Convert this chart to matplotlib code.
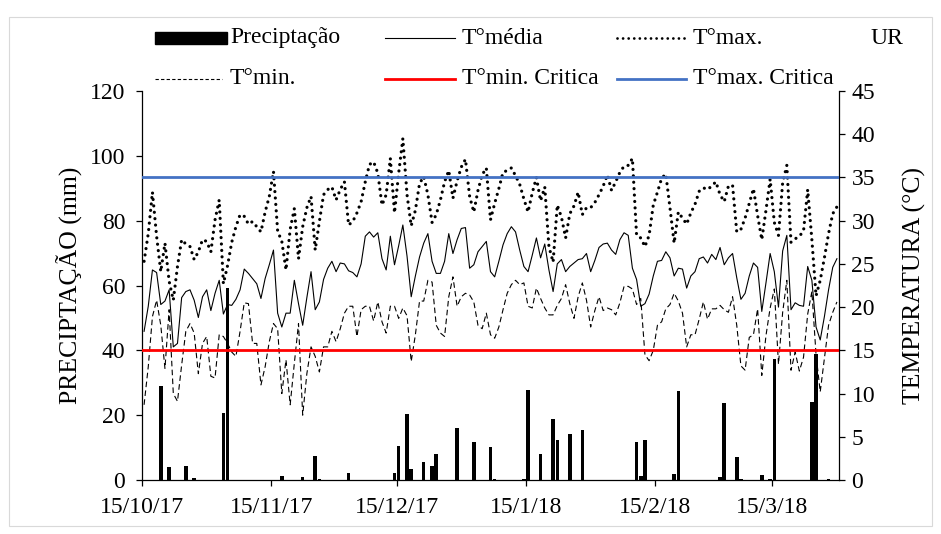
import matplotlib.pyplot as plt
from matplotlib.lines import Line2D
from matplotlib.patches import Rectangle
import pandas as pd

plt.rcParams['font.family'] = ['Liberation Serif', 'DejaVu Serif']

# daily series, 15/10/2017 .. 30/03/2018
dates = pd.date_range('2017-10-15', periods=167, freq='D')

precip = [
    0, 0, 0, 0, 28.9, 0, 4.0, 0, 0, 0, 4.2, 0, 0.6, 0, 0, 0, 0, 0, 0, 20.6,
    59.2, 0, 0, 0, 0, 0, 0, 0, 0, 0, 0, 0, 0, 1.3, 0, 0, 0, 0, 1.0, 0,
    0, 7.5, 0.4, 0, 0, 0, 0, 0, 0, 2.1, 0, 0, 0, 0, 0, 0, 0, 0, 0, 0,
    2.1, 10.6, 0, 20.5, 3.3, 0, 0, 5.7, 0, 4.4, 8.1, 0, 0, 0, 0, 16.0, 0, 0, 0, 11.6,
    0, 0, 0, 10.1, 0.4, 0, 0, 0, 0, 0, 0, 0.4, 27.7, 0, 0, 8.1, 0, 0, 18.7, 12.2,
    0, 0, 14.3, 0, 0, 15.3, 0, 0, 0, 0, 0, 0, 0, 0, 0, 0, 0, 0, 11.8, 1.1,
    12.2, 0, 0, 0, 0, 0, 0, 2.0, 27.4, 0, 0, 0, 0, 0, 0, 0, 0, 0, 0.8, 23.6,
    0, 0, 7.0, 0.4, 0, 0, 0, 0, 1.5, 0, 0.4, 37.2, 0, 0, 0, 0, 0, 0, 0, 0,
    24.0, 39.0, 0, 0, 0.4, 0, 0,
]

t_med = [
    17.2, 20.1, 24.3, 24.0, 20.3, 20.7, 22.0, 15.4, 15.8, 21.1,
    21.8, 22.0, 20.8, 18.8, 21.2, 22.0, 19.6, 21.6, 23.1, 19.2,
    20.3, 20.2, 20.9, 22.0, 24.4, 23.9, 23.3, 22.7, 21.0, 23.3,
    24.9, 26.6, 19.3, 17.7, 19.3, 19.3, 23.1, 20.4, 17.9, 21.1,
    24.1, 19.7, 20.6, 23.2, 24.5, 25.3, 24.1, 25.1, 25.0, 24.2,
    24.0, 23.5, 25.0, 28.2, 28.7, 28.1, 28.6, 25.6, 24.3, 28.2,
    24.9, 27.1, 29.5, 25.9, 21.2, 23.6, 25.8, 27.4, 28.5, 25.3,
    23.9, 23.9, 25.3, 28.5, 26.2, 27.8, 29.1, 29.2, 24.5, 24.9,
    26.4, 27.0, 27.6, 24.1, 23.5, 25.3, 27.2, 28.5, 29.3, 28.7,
    26.6, 24.7, 24.1, 26.0, 28.0, 25.7, 27.3, 24.3, 21.8, 25.0,
    25.5, 24.1, 24.7, 25.1, 25.5, 25.6, 26.2, 24.1, 25.4, 26.9,
    27.3, 27.4, 26.6, 26.1, 27.8, 28.6, 28.3, 24.5, 23.2, 20.1,
    20.4, 21.5, 23.6, 25.3, 25.4, 26.4, 25.7, 23.6, 24.5, 24.4,
    22.2, 23.6, 24.1, 25.6, 25.8, 25.1, 26.1, 25.5, 26.9, 24.9,
    25.7, 26.2, 23.4, 20.9, 21.6, 23.6, 25.1, 24.6, 19.5, 22.8,
    26.2, 24.1, 20.0, 26.5, 28.3, 19.7, 20.5, 20.2, 20.1, 24.7,
    23.1, 17.7, 16.2, 18.9, 22.0, 24.6, 25.6,
]

t_max = [
    25.3, 28.5, 33.3, 28.2, 24.1, 27.4, 23.0, 20.8, 24.7, 27.8,
    27.3, 27.0, 25.5, 26.4, 27.8, 27.6, 26.4, 30.1, 32.4, 22.7,
    24.8, 27.5, 29.3, 30.7, 30.5, 29.6, 29.9, 29.3, 28.7, 31.0,
    32.8, 35.7, 28.8, 27.6, 24.3, 29.0, 31.4, 25.6, 29.3, 31.5,
    32.8, 26.6, 29.9, 33.0, 33.6, 33.9, 32.4, 33.6, 34.5, 29.5,
    29.9, 30.9, 32.2, 34.5, 36.5, 36.8, 35.5, 31.8, 33.0, 37.2,
    30.9, 35.5, 39.5, 33.0, 29.4, 31.2, 34.3, 35.1, 33.0, 29.8,
    30.7, 32.4, 34.5, 35.8, 32.6, 34.6, 36.2, 37.1, 32.8, 31.0,
    33.5, 35.3, 36.1, 30.1, 32.0, 33.7, 35.6, 35.8, 36.1, 35.2,
    34.2, 32.5, 31.0, 33.2, 35.0, 32.3, 33.9, 27.0, 25.2, 31.8,
    30.4, 28.0, 30.8, 31.7, 33.3, 30.7, 31.5, 31.5, 32.1, 33.0,
    34.0, 35.3, 33.5, 34.5, 35.6, 36.3, 36.4, 37.2, 28.3, 28.0,
    27.0, 28.3, 31.8, 33.3, 34.9, 35.4, 31.5, 27.4, 31.0, 30.3,
    29.6, 30.9, 31.9, 33.4, 33.8, 33.6, 34.0, 34.5, 33.0, 32.2,
    34.0, 34.1, 28.7, 29.0, 30.3, 32.0, 33.7, 30.6, 27.8, 31.2,
    34.8, 29.8, 28.3, 34.4, 36.4, 27.5, 27.9, 28.2, 28.8, 33.6,
    27.8, 21.3, 23.1, 25.7, 28.5, 30.8, 31.6,
]

t_min = [
    8.7, 13.1, 18.9, 20.8, 17.9, 12.9, 19.7, 10.0, 9.1, 13.3,
    17.2, 18.1, 17.0, 12.3, 15.8, 16.6, 12.0, 11.8, 16.8, 16.6,
    15.8, 14.8, 14.3, 17.2, 20.5, 20.4, 15.8, 15.8, 11.0, 13.1,
    16.0, 18.1, 17.5, 10.0, 13.9, 8.7, 13.5, 18.1, 7.5, 12.3,
    15.4, 14.3, 12.5, 15.4, 15.4, 17.2, 16.0, 17.5, 19.3, 20.1,
    20.1, 16.6, 19.7, 20.1, 20.1, 18.4, 20.6, 18.3, 17.0, 20.1,
    20.1, 18.7, 19.9, 19.0, 13.7, 16.8, 20.7, 20.7, 23.1, 22.9,
    17.9, 17.0, 16.6, 21.2, 23.5, 20.1, 21.2, 21.6, 21.4, 20.6,
    17.9, 17.5, 19.3, 16.8, 16.4, 17.7, 19.7, 21.6, 22.6, 23.1,
    22.6, 22.8, 20.1, 19.9, 22.2, 21.0, 19.9, 19.1, 19.1, 20.2,
    21.0, 22.6, 20.4, 18.7, 21.2, 22.8, 20.8, 17.7, 19.6, 21.2,
    19.6, 19.9, 19.7, 19.1, 20.5, 22.4, 22.4, 22.1, 20.3, 21.0,
    14.5, 13.8, 15.0, 17.9, 18.3, 19.8, 20.3, 21.6, 20.7, 19.3,
    15.4, 16.8, 16.8, 18.6, 20.6, 18.6, 19.8, 19.8, 20.2, 19.7,
    19.4, 21.2, 17.9, 13.2, 12.7, 16.5, 16.8, 19.8, 12.1, 16.7,
    19.9, 22.1, 13.4, 19.4, 23.1, 12.7, 14.8, 12.6, 14.2, 19.2,
    21.8, 14.5, 10.2, 14.0, 17.9, 19.4, 20.6,
]

t_min_crit = 15
t_max_crit = 35

tick_dates = pd.to_datetime(['2017-10-15', '2017-11-15', '2017-12-15',
                             '2018-01-15', '2018-02-15', '2018-03-15'])
tick_labels = ['15/10/17', '15/11/17', '15/12/17', '15/1/18', '15/2/18', '15/3/18']

FS = 17
W, H = 941, 534

fig = plt.figure(figsize=(W / 100, H / 100), dpi=100)
ax1 = fig.add_axes([142 / W, 1 - 480 / H, 697 / W, 389 / H])
ax2 = ax1.twinx()

# points sit in the middle of each day
xc = dates + pd.Timedelta(hours=12)

ax1.bar(xc, precip, width=0.85, color='black', zorder=2)
ax2.plot(xc, t_med, color='black', lw=0.8, zorder=3)
ax2.plot(xc, t_max, color='black', lw=2.3, linestyle=(0, (0.01, 2.0)),
         dash_capstyle='round', zorder=3)
ax2.plot(xc, t_min, color='black', lw=0.8, linestyle=(0, (5, 3)), zorder=3)
ax2.axhline(t_min_crit, color='#ff0000', lw=2.0, zorder=4)
ax2.axhline(t_max_crit, color='#4472c4', lw=2.0, zorder=4)

ax1.set_xlim(pd.Timestamp('2017-10-15'), pd.Timestamp('2018-03-31'))
ax1.set_ylim(0, 120)
ax2.set_ylim(0, 45)
ax1.set_yticks(range(0, 121, 20))
ax2.set_yticks(range(0, 46, 5))
ax1.set_xticks(tick_dates)
ax1.set_xticklabels(tick_labels)

for a in (ax1, ax2):
    for s in a.spines.values():
        s.set_visible(False)
ax1.spines['left'].set_visible(True)
ax1.spines['bottom'].set_visible(True)
ax2.spines['right'].set_visible(True)
for s in (ax1.spines['left'], ax1.spines['bottom'], ax2.spines['right']):
    s.set_linewidth(0.9)
    s.set_color('black')

ax1.tick_params(axis='both', direction='out', length=4, width=0.9,
                labelsize=FS, pad=8)
ax2.tick_params(axis='y', direction='out', length=4, width=0.9,
                labelsize=FS, pad=5)

fig.text(70 / W, 1 - 285 / H, 'PRECIPTAÇÃO (mm)', rotation=90,
         ha='center', va='center', fontsize=18.5)
fig.text(914 / W, 1 - 285 / H, 'TEMPERATURA (°C)', rotation=90,
         ha='center', va='center', fontsize=18.5)

# legend, two rows across the top
def fx(px):
    return px / W

def fy(py):
    return 1 - py / H

r1, r2 = 38, 79
fig.add_artist(Rectangle((fx(155), fy(r1 + 6)), fx(227) - fx(155), 12 / H,
                         transform=fig.transFigure, color='black'))
fig.add_artist(Line2D([fx(385), fx(455)], [fy(r1), fy(r1)], color='black', lw=0.8))
fig.add_artist(Line2D([fx(617), fx(686)], [fy(r1), fy(r1)], color='black', lw=2.0,
                      linestyle=(0, (0.01, 2.0)), dash_capstyle='round'))
fig.add_artist(Line2D([fx(155), fx(222)], [fy(r2), fy(r2)], color='black', lw=0.8,
                      linestyle=(0, (3, 2))))
fig.add_artist(Line2D([fx(385), fx(455)], [fy(r2), fy(r2)], color='#ff0000', lw=2.0))
fig.add_artist(Line2D([fx(617), fx(686)], [fy(r2), fy(r2)], color='#4472c4', lw=2.0))

for px, py, s in [(230, r1, 'Preciptação'), (462, r1, 'T°média'), (693, r1, 'T°max.'),
                  (870, r1, 'UR'), (230, r2, 'T°min.'), (462, r2, 'T°min. Critica'),
                  (693, r2, 'T°max. Critica')]:
    fig.text(fx(px), fy(py), s, ha='left', va='center', fontsize=FS)

# light frame round the chart area
fig.add_artist(Rectangle((fx(9), fy(526)), fx(932) - fx(9), (526 - 17) / H,
                         transform=fig.transFigure, fill=False,
                         edgecolor='#d9d9d9', lw=0.8))

fig.savefig('out.png', dpi=100)
